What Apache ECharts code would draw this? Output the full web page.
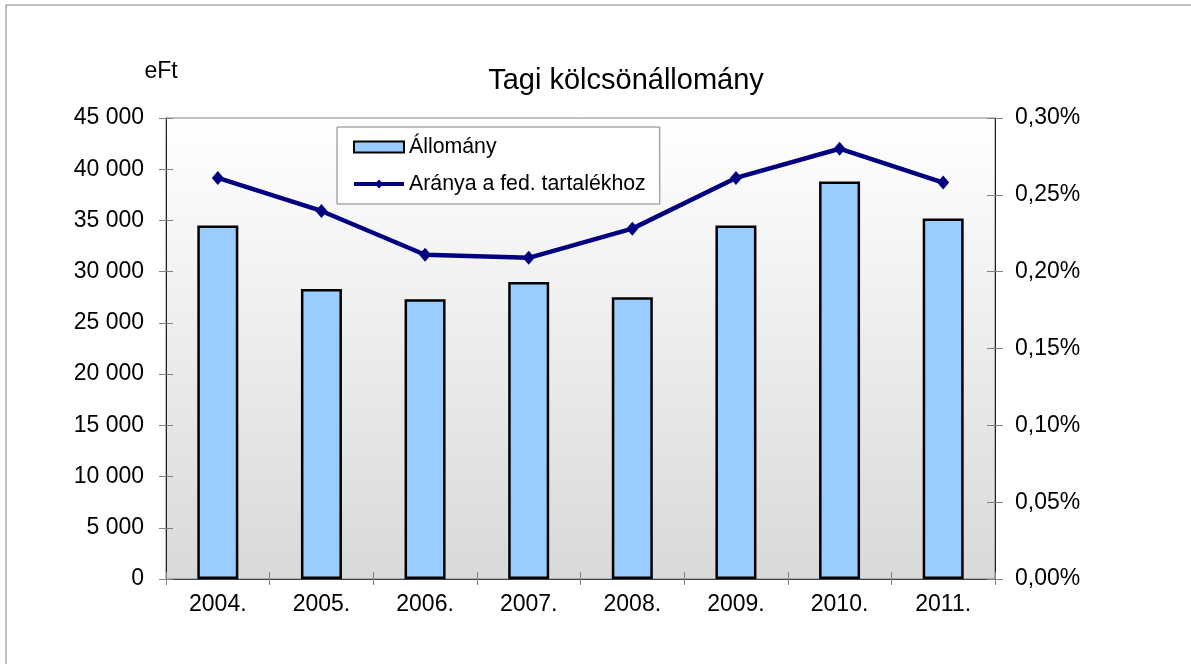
<!DOCTYPE html>
<html>
<head>
<meta charset="utf-8">
<script src="https://cdn.jsdelivr.net/npm/echarts@6/dist/echarts.min.js"></script>
<style>
html,body{margin:0;padding:0;background:#fff;}
#c{width:1191px;height:664px;}
</style>
</head>
<body>
<div id="c"></div>
<script>
const categories = ['2004.', '2005.', '2006.', '2007.', '2008.', '2009.', '2010.', '2011.'];
const allomany = [34500, 28300, 27300, 29000, 27500, 34500, 38800, 35200];
const aranya = [0.261, 0.2395, 0.211, 0.209, 0.228, 0.261, 0.280, 0.258];
const seriesNames = ['Állomány', 'Aránya a fed. tartalékhoz'];
const titleText = 'Tagi kölcsönállomány';
const unitText = 'eFt';

const FONT = 'Liberation Sans, Arial, sans-serif';
const leftFmt = v => String(v).replace(/\B(?=(\d{3})+(?!\d))/g, ' ');
const rightFmt = v => v.toFixed(2).replace('.', ',') + '%';

const chart = echarts.init(document.getElementById('c'), null, {renderer: 'canvas'});

const yLeftBase = {type: 'value', min: 0, max: 45000, interval: 5000, position: 'left'};
const yRightBase = {type: 'value', min: 0, max: 0.3, interval: 0.05, position: 'right'};

chart.setOption({
  animation: false,
  backgroundColor: '#ffffff',
  grid: {
    left: 166, right: 196, top: 118, bottom: 85,
    show: true,
    borderColor: '#808080', borderWidth: 1,
    backgroundColor: new echarts.graphic.LinearGradient(0, 0, 0, 1, [
      {offset: 0, color: '#ffffff'},
      {offset: 1, color: '#d9d9d9'}
    ])
  },
  legend: {
    orient: 'vertical',
    left: 337, top: 127,
    padding: [8, 14, 8, 15],
    itemGap: 13,
    itemWidth: 50, itemHeight: 11,
    backgroundColor: '#ffffff',
    borderColor: '#808080', borderWidth: 1,
    borderRadius: 0,
    textStyle: {fontFamily: FONT, fontSize: 21.3, color: '#000', lineHeight: 24},
    data: [
      {name: seriesNames[0], icon: 'rect', itemStyle: {borderWidth: 2, borderColor: '#000'}},
      {name: seriesNames[1], lineStyle: {width: 4, color: '#000080'}}
    ]
  },
  graphic: [
    {type: 'rect', shape: {x: 6, y: 5, width: 1250, height: 720},
     style: {fill: null, stroke: '#808080', lineWidth: 1}, silent: true},
    {type: 'text', x: 626, y: 81,
     style: {text: titleText, fill: '#000', font: '29px ' + FONT, textAlign: 'center', textVerticalAlign: 'middle'}},
    {type: 'text', x: 161, y: 72,
     style: {text: unitText, fill: '#000', font: '23px ' + FONT, textAlign: 'center', textVerticalAlign: 'middle'}}
  ],
  xAxis: [
    {type: 'category', data: categories, boundaryGap: true,
     axisLine: {lineStyle: {color: '#404040', width: 1}},
     axisTick: {show: true, inside: false, length: 6, lineStyle: {color: '#808080'}},
     axisLabel: {fontFamily: FONT, fontSize: 23, color: '#000', margin: 14}},
    {type: 'category', data: categories, boundaryGap: true, position: 'bottom',
     axisLine: {show: false},
     axisTick: {show: true, inside: true, length: 7, lineStyle: {color: '#808080'}},
     axisLabel: {show: false}}
  ],
  yAxis: [
    Object.assign({}, yLeftBase, {
      axisLine: {show: true, lineStyle: {color: '#202020', width: 1}},
      axisTick: {show: true, inside: false, length: 7, lineStyle: {color: '#808080'}},
      axisLabel: {fontFamily: FONT, fontSize: 23, color: '#000', margin: 22, formatter: leftFmt},
      splitLine: {show: false}
    }),
    Object.assign({}, yRightBase, {
      axisLine: {show: true, lineStyle: {color: '#202020', width: 1}},
      axisTick: {show: true, inside: false, length: 8, lineStyle: {color: '#808080'}},
      axisLabel: {fontFamily: FONT, fontSize: 23, color: '#000', margin: 20, formatter: rightFmt},
      splitLine: {show: false}
    }),
    Object.assign({}, yLeftBase, {
      axisLine: {show: false},
      axisTick: {show: true, inside: true, length: 7, lineStyle: {color: '#808080'}},
      axisLabel: {show: false}, splitLine: {show: false}
    }),
    Object.assign({}, yRightBase, {
      axisLine: {show: false},
      axisTick: {show: true, inside: true, length: 8, lineStyle: {color: '#808080'}},
      axisLabel: {show: false}, splitLine: {show: false}
    })
  ],
  series: [
    {
      name: seriesNames[0], type: 'bar', xAxisIndex: 0, yAxisIndex: 0,
      data: allomany, barWidth: 41,
      itemStyle: {color: '#99ccff', borderColor: '#000000', borderWidth: 2.5}
    },
    {
      name: seriesNames[1], type: 'line', xAxisIndex: 0, yAxisIndex: 1,
      data: aranya,
      symbol: 'diamond', symbolSize: [12, 14], showSymbol: true,
      lineStyle: {color: '#000080', width: 4.5},
      itemStyle: {color: '#000080'},
      z: 5
    }
  ]
});
</script>
</body>
</html>
